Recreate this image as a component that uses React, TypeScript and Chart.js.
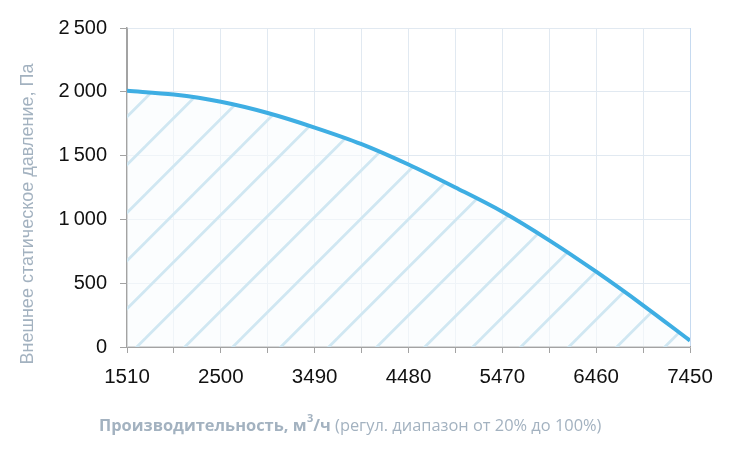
import React, { useEffect, useRef } from "react";
import { Chart, registerables } from "chart.js";

Chart.register(...registerables);

// ---- data ----
const FLOW = [1510, 2005, 2500, 2995, 3490, 3985, 4480, 4975, 5470, 5965, 6460, 6955, 7450];
const PRESSURE = [2008, 1978, 1922, 1834, 1720, 1590, 1430, 1250, 1060, 836, 590, 327, 50];
const X_GRID_TICKS = [1510, 2005, 2500, 2995, 3490, 3985, 4480, 4975, 5470, 5965, 6460, 6955, 7450];
const X_LABELED = [1510, 2500, 3490, 4480, 5470, 6460, 7450];
const Y_TICKS = [0, 500, 1000, 1500, 2000, 2500];
const Y_LABELS = ["0", "500", "1\u2009000", "1\u2009500", "2\u2009000", "2\u2009500"];
const Y_TITLE = "Внешнее статическое давление, Па";
const X_TITLE_BOLD = "Производительность, м";
const X_TITLE_SUP = "3";
const X_TITLE_BOLD2 = "/ч";
const X_TITLE_REST = " (регул. диапазон от 20% до 100%)";

const AXIS_GRAY = "#a3a3a3";
const GRID = "#e1e9f1";
const TITLE_COLOR = "#a3b2c0";

function makeHatch(): CanvasPattern | string {
  const s = 48;
  const c = document.createElement("canvas");
  c.width = s;
  c.height = s;
  const g = c.getContext("2d");
  if (!g) return "rgba(200,225,240,0.3)";
  g.fillStyle = "rgba(248,251,253,0.6)";
  g.fillRect(0, 0, s, s);
  g.strokeStyle = "#d0e7f2";
  g.lineWidth = 2.8;
  const c0 = 3.7;
  for (const k of [-1, 0, 1, 2]) {
    const cc = c0 + k * s;
    g.beginPath();
    g.moveTo(cc + 10, -10);
    g.lineTo(-10, cc + 10);
    g.stroke();
  }
  return g.createPattern(c, "repeat") || "rgba(200,225,240,0.3)";
}

const titlesPlugin = {
  id: "customTitles",
  afterDraw(chart: any) {
    const ctx: CanvasRenderingContext2D = chart.ctx;
    // Y title
    ctx.save();
    ctx.translate(33, 214);
    ctx.rotate(-Math.PI / 2);
    ctx.font = "18px 'Liberation Sans', Arial, sans-serif";
    ctx.fillStyle = TITLE_COLOR;
    ctx.textAlign = "center";
    ctx.textBaseline = "alphabetic";
    ctx.fillText(Y_TITLE, 0, 0);
    ctx.restore();

    // X title
    ctx.save();
    ctx.fillStyle = TITLE_COLOR;
    ctx.textAlign = "left";
    ctx.textBaseline = "alphabetic";
    let x = 99;
    const y = 431;
    ctx.font = "bold 16.4px 'Open Sans', sans-serif";
    ctx.fillText(X_TITLE_BOLD, x, y);
    x += ctx.measureText(X_TITLE_BOLD).width;
    ctx.font = "bold 11px 'Open Sans', sans-serif";
    ctx.fillText(X_TITLE_SUP, x + 0.5, y - 9);
    x += ctx.measureText(X_TITLE_SUP).width + 0.5;
    ctx.font = "bold 16.4px 'Open Sans', sans-serif";
    ctx.fillText(X_TITLE_BOLD2, x, y);
    x += ctx.measureText(X_TITLE_BOLD2).width;
    ctx.font = "16.4px 'Open Sans', sans-serif";
    ctx.fillText(X_TITLE_REST, x, y);
    ctx.restore();
  },
};

export default function App() {
  const ref = useRef<HTMLCanvasElement | null>(null);

  useEffect(() => {
    if (!ref.current) return;
    const hatch = makeHatch();
    const chart = new Chart(ref.current, {
      type: "line",
      data: {
        datasets: [
          {
            data: FLOW.map((x, i) => ({ x, y: PRESSURE[i] })),
            borderColor: "#3eaee3",
            borderWidth: 4,
            pointRadius: 0,
            cubicInterpolationMode: "monotone",
            fill: "origin",
            backgroundColor: hatch as any,
          },
        ],
      },
      options: {
        animation: false,
        responsive: false,
        events: [],
        layout: { padding: { left: 0, top: 28, right: 40, bottom: 0 } },
        plugins: { legend: { display: false }, tooltip: { enabled: false }, title: { display: false } },
        scales: {
          x: {
            type: "linear",
            min: 1510,
            max: 7450,
            afterBuildTicks: (s: any) => {
              s.ticks = X_GRID_TICKS.map((v) => ({ value: v }));
            },
            afterFit: (s: any) => {
              s.height = 109;
            },
            ticks: {
              autoSkip: false,
              maxRotation: 0,
              minRotation: 0,
              padding: 12,
              color: "#111",
              font: { family: "'Liberation Sans', Arial, sans-serif", size: 20.5 },
              callback: (v: any) => (X_LABELED.includes(Number(v)) ? String(v) : ""),
            },
            grid: {
              color: (c: any) =>
                c.tick && c.tick.value === 1510
                  ? AXIS_GRAY
                  : c.tick && c.tick.value === 7450
                  ? "#c6daf0"
                  : GRID,
              tickColor: AXIS_GRAY,
              tickLength: 6,
              lineWidth: 1,
            },
            border: { color: AXIS_GRAY, width: 1.5 },
          },
          y: {
            type: "linear",
            min: 0,
            max: 2500,
            afterBuildTicks: (s: any) => {
              s.ticks = Y_TICKS.map((v) => ({ value: v }));
            },
            afterFit: (s: any) => {
              s.width = 127;
            },
            ticks: {
              padding: 13,
              color: "#111",
              font: { family: "'Liberation Sans', Arial, sans-serif", size: 20 },
              callback: (v: any) => {
                const i = Y_TICKS.indexOf(Number(v));
                return i >= 0 ? Y_LABELS[i] : "";
              },
            },
            grid: {
              color: (c: any) => (c.tick && c.tick.value === 0 ? AXIS_GRAY : GRID),
              tickColor: AXIS_GRAY,
              tickLength: 7,
              lineWidth: 1,
            },
            border: { color: AXIS_GRAY, width: 1.5 },
          },
        },
      } as any,
      plugins: [titlesPlugin],
    });
    return () => chart.destroy();
  }, []);

  return (
    <div style={{ position: "fixed", left: 0, top: 0, width: 730, height: 456, background: "#fff" }}>
      <canvas ref={ref} width={730} height={456} style={{ width: 730, height: 456, display: "block" }} />
    </div>
  );
}
